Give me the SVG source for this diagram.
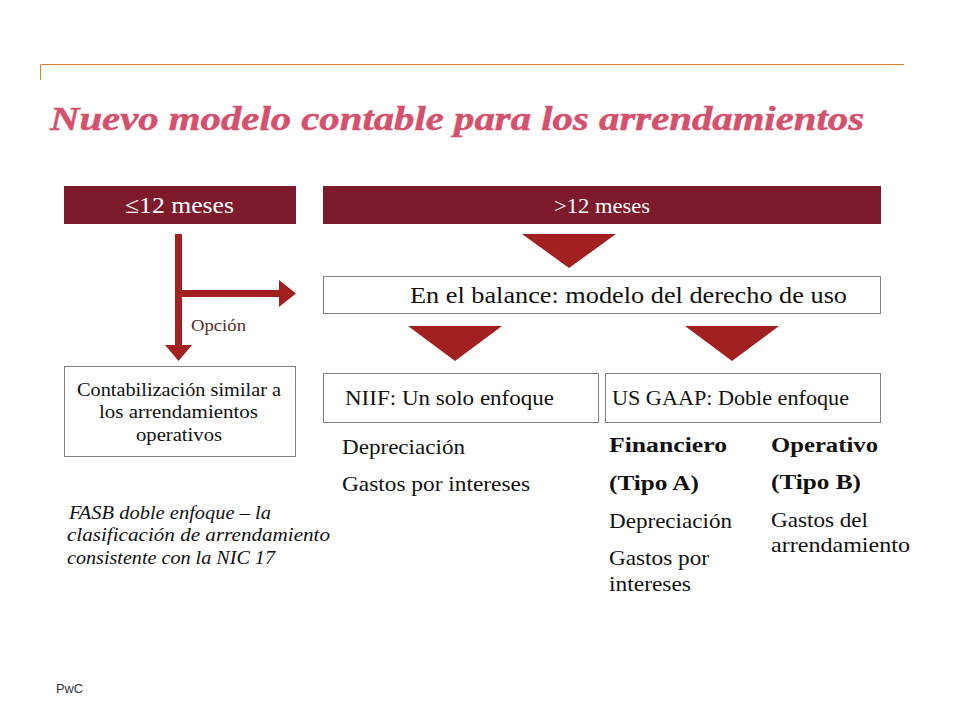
<svg xmlns="http://www.w3.org/2000/svg" width="960" height="720" viewBox="0 0 960 720">
<style>
text{font-family:"Liberation Serif",Georgia,serif;fill:#111;font-size:21px}
.box{fill:#fff;stroke:#808080;stroke-width:1}
.hdr{fill:#7d1a2c}
.arrow{fill:#a32020}
.w{fill:#fff}
.b{font-weight:bold}
.n{font-size:18px}
.i{font-size:18px;font-style:italic}
</style>
<rect width="960" height="720" fill="#fff"/>
<path d="M40.500 80V64.500H904" fill="none" stroke="#d9822b" stroke-width="1"/>
<text id="title" x="50" y="130" textLength="814" lengthAdjust="spacingAndGlyphs" style="font-size:34px;font-weight:bold;font-style:italic;fill:#d4506c;stroke:#d4506c;stroke-width:.5">Nuevo modelo contable para los arrendamientos</text>
<g id="connectors">
<path class="arrow" d="M175 234H182V345H192L178.500 361L165 345H175Z"/>
<path class="arrow" d="M182 290H279V280L296 293.500L279 307V297H182Z"/>
<path class="arrow" d="M522 234H616L569 268Z"/>
<path class="arrow" d="M408 326H502L455 361Z"/>
<path class="arrow" d="M685 326H779L732 361Z"/>
</g>
<g id="node-short"><rect class="hdr" x="64" y="186" width="232" height="38"/>
<text class="w" x="125" y="213" textLength="109" lengthAdjust="spacingAndGlyphs" style="font-size:23px">≤12 meses</text></g>
<g id="node-long"><rect class="hdr" x="323" y="186" width="558" height="38"/>
<text class="w" x="554" y="213" textLength="96" lengthAdjust="spacingAndGlyphs" style="font-size:20px">&gt;12 meses</text></g>
<g id="node-balance"><rect class="box" x="323.500" y="276.500" width="557" height="37"/>
<text x="410" y="303" textLength="437" lengthAdjust="spacingAndGlyphs" style="font-size:24px">En el balance: modelo del derecho de uso</text></g>
<g id="label-opcion"><text x="191" y="331" textLength="55" lengthAdjust="spacingAndGlyphs" style="font-size:16px;fill:#5e2a2a">Opción</text></g>
<g id="node-contab"><rect class="box" x="64.500" y="366.500" width="231" height="90"/>
<text class="n" x="77" y="396" textLength="204" lengthAdjust="spacingAndGlyphs">Contabilización similar a</text>
<text class="n" x="99" y="418" textLength="159" lengthAdjust="spacingAndGlyphs">los arrendamientos</text>
<text class="n" x="136" y="441" textLength="86" lengthAdjust="spacingAndGlyphs">operativos</text></g>
<g id="node-niif"><rect class="box" x="323.500" y="373.500" width="275" height="49"/>
<text x="345" y="405" textLength="209" lengthAdjust="spacingAndGlyphs">NIIF: Un solo enfoque</text></g>
<g id="node-gaap"><rect class="box" x="605.500" y="373.500" width="275" height="49"/>
<text x="612" y="405" textLength="237" lengthAdjust="spacingAndGlyphs">US GAAP: Doble enfoque</text></g>
<g id="niif-list">
<text x="342" y="454" textLength="123" lengthAdjust="spacingAndGlyphs">Depreciación</text>
<text x="342" y="491" textLength="188" lengthAdjust="spacingAndGlyphs">Gastos por intereses</text></g>
<g id="note">
<text class="i" x="69" y="519" textLength="202" lengthAdjust="spacingAndGlyphs">FASB doble enfoque – la</text>
<text class="i" x="67" y="541" textLength="263" lengthAdjust="spacingAndGlyphs">clasificación de arrendamiento</text>
<text class="i" x="67" y="564" textLength="208" lengthAdjust="spacingAndGlyphs">consistente con la NIC 17</text></g>
<g id="tipo-a">
<text class="b" x="609" y="452" textLength="118" lengthAdjust="spacingAndGlyphs" style="font-size:20px">Financiero</text>
<text class="b" x="609" y="490" textLength="90" lengthAdjust="spacingAndGlyphs" style="font-size:20px">(Tipo A)</text>
<text x="609" y="528" textLength="123" lengthAdjust="spacingAndGlyphs">Depreciación</text>
<text x="609" y="565" textLength="100" lengthAdjust="spacingAndGlyphs">Gastos por</text>
<text x="609" y="591" textLength="82" lengthAdjust="spacingAndGlyphs">intereses</text></g>
<g id="tipo-b">
<text class="b" x="771" y="452" textLength="107" lengthAdjust="spacingAndGlyphs" style="font-size:20px">Operativo</text>
<text class="b" x="771" y="489" textLength="90" lengthAdjust="spacingAndGlyphs" style="font-size:20px">(Tipo B)</text>
<text x="771" y="527" textLength="97" lengthAdjust="spacingAndGlyphs">Gastos del</text>
<text x="771" y="552" textLength="139" lengthAdjust="spacingAndGlyphs">arrendamiento</text></g>
<text id="footer" x="56" y="693" textLength="27" lengthAdjust="spacingAndGlyphs" style="font-family:'Liberation Sans',Arial,sans-serif;font-size:12px;fill:#333">PwC</text>
</svg>
